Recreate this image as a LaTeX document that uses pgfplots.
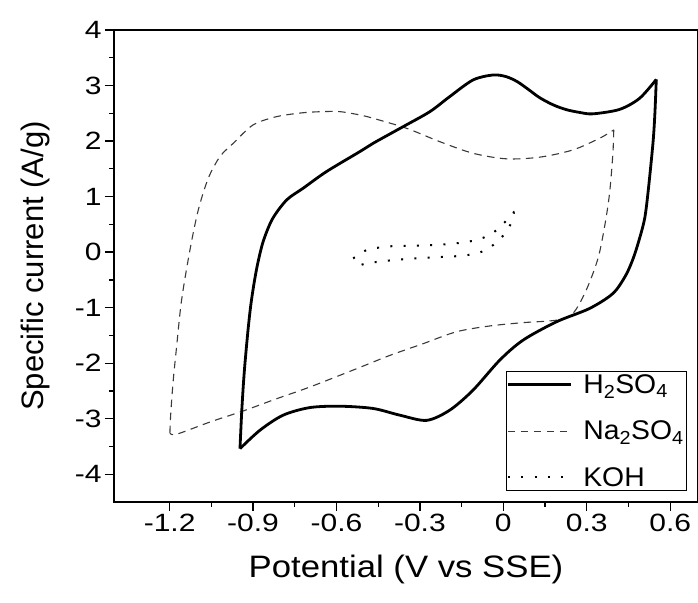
\documentclass[border=0pt]{standalone}
\usepackage{fontspec}
\setmainfont{Liberation Sans}
\newfontfamily\tickfont{Liberation Sans}[FakeStretch=1.2]
\newfontfamily\xlabfont{Liberation Sans}[FakeStretch=1.12]
\newfontfamily\legfont{Liberation Sans}[FakeStretch=1.05]
\usepackage{pgfplots}
\pgfplotsset{compat=1.18}
\definecolor{dashgray}{HTML}{3A3A3A}
\begin{document}
\begin{tikzpicture}
\begin{axis}[name=ax, width=584pt, height=472pt, scale only axis,
 xmin=-1.4, xmax=0.7, ymin=-4.5, ymax=4,
 xtick={-1.2,-0.9,-0.6,-0.3,0,0.3,0.6},
 xticklabels={-1.2,-0.9,-0.6,-0.3,0,0.3,0.6},
 ytick={-4,-3,-2,-1,0,1,2,3,4},
 yticklabels={-4,-3,-2,-1,0,1,2,3,4},
 minor x tick num=1, minor y tick num=1,
 xtick pos=left, ytick pos=left, tick align=outside,
 major tick length=9pt, minor tick length=5pt,
 every tick/.style={black, line width=1.3pt},
 axis line style={line width=1.4pt},
 tick label style={font=\tickfont\fontsize{25}{30}\selectfont},
 xlabel style={font=\xlabfont\fontsize{31}{36}\selectfont, at={(axis description cs:0.5,-0.144)}, anchor=center},
 ylabel style={font=\fontsize{31}{36}\selectfont, at={(axis description cs:-0.135,0.5)}, anchor=center},
 xlabel={Potential (V vs SSE)}, ylabel={Specific current (A/g)},
 legend style={at={(1,0)}, anchor=south east, xshift=-11pt, yshift=11pt,
   draw=black, line width=0.8pt, font=\legfont\fontsize{27}{30}\selectfont,
   cells={anchor=west}, row sep=20pt, inner sep=0pt, nodes={inner sep=3pt},
   /tikz/every odd column/.append style={column sep=8pt}},
 legend image code/.code={\draw[#1] (0pt,0pt) -- (63pt,0pt);},
]
\addlegendimage{black, line width=2.8pt}
\addlegendentry{H\textsubscript{2}SO\textsubscript{4}}
\addlegendimage{dashgray, line width=1.1pt, dash pattern=on 7.5pt off 5.5pt}
\addlegendentry{Na\textsubscript{2}SO\textsubscript{4}}
\addlegendimage{black, line width=2pt, dash pattern=on 2pt off 11.3pt}
\addlegendentry{KOH}

% Na2SO4
\addplot[forget plot, dashgray, line width=1.1pt, dash pattern=on 7.5pt off 5.5pt, smooth] coordinates {
(-1.199,-3.26) (-1.196,-2.91) (-1.187,-2.31) (-1.175,-1.71) (-1.157,-0.865)
(-1.127,0.036) (-1.097,0.757) (-1.061,1.33) (-1.019,1.72) (-0.971,1.96)
(-0.9,2.29) (-0.815,2.44) (-0.72,2.51) (-0.648,2.53) (-0.588,2.53)
(-0.516,2.47) (-0.468,2.41) (-0.348,2.23) (-0.229,1.99) (-0.109,1.78)
(0.011,1.68) (0.131,1.71) (0.25,1.84) (0.346,2.05) (0.397,2.20)};
\addplot[forget plot, dashgray, line width=1.1pt, dash pattern=on 7.5pt off 5.5pt, smooth] coordinates {
(0.397,2.20) (0.394,1.78) (0.382,1.06) (0.364,0.456) (0.34,-0.12)
(0.298,-0.685) (0.25,-1.105) (0.191,-1.225) (0.071,-1.27) (-0.049,-1.33)
(-0.169,-1.435) (-0.289,-1.65) (-0.408,-1.86) (-0.528,-2.10) (-0.696,-2.43)
(-0.815,-2.64) (-0.935,-2.86) (-1.055,-3.06) (-1.175,-3.28) (-1.199,-3.26)};

% KOH
\addplot[forget plot, black, line width=2pt, dash pattern=on 2pt off 11.3pt, smooth] coordinates {
(-0.54,-0.114) (-0.492,0.036) (-0.442,0.085) (-0.39,0.11) (-0.34,0.114)
(-0.289,0.12) (-0.238,0.132) (-0.187,0.15) (-0.136,0.18) (-0.085,0.234)
(-0.039,0.342) (-0.001,0.505) (0.037,0.715) (0.029,0.535) (0.005,0.33)
(-0.033,0.14) (-0.079,0.005) (-0.13,-0.054) (-0.182,-0.078) (-0.232,-0.09)
(-0.284,-0.102) (-0.335,-0.12) (-0.387,-0.138) (-0.437,-0.168) (-0.487,-0.198)
(-0.536,-0.265)};

% H2SO4
\addplot[forget plot, black, line width=2.8pt, smooth] coordinates {
(-0.947,-3.54) (-0.941,-2.9) (-0.935,-2.4) (-0.929,-2.0) (-0.918,-1.4)
(-0.908,-0.95) (-0.896,-0.55) (-0.883,-0.2) (-0.863,0.2) (-0.83,0.6)
(-0.779,0.94) (-0.72,1.15) (-0.636,1.45) (-0.516,1.81) (-0.468,1.96)
(-0.36,2.26) (-0.264,2.53) (-0.193,2.80) (-0.109,3.10) (-0.037,3.19)
(0.01,3.16) (0.05,3.07) (0.09,2.93) (0.131,2.78) (0.18,2.65) (0.227,2.565)
(0.275,2.515) (0.322,2.49) (0.418,2.57) (0.49,2.77) (0.55,3.11)};
\addplot[forget plot, black, line width=2.8pt, smooth] coordinates {
(0.55,3.11) (0.545,2.5) (0.538,1.96) (0.52,1.06) (0.508,0.6) (0.49,0.25)
(0.468,-0.1) (0.44,-0.42) (0.394,-0.745) (0.31,-1.015) (0.191,-1.255) (0.071,-1.585)
(-0.013,-1.946) (-0.109,-2.486) (-0.193,-2.847) (-0.276,-3.03) (-0.372,-2.937)
(-0.468,-2.816) (-0.588,-2.775) (-0.696,-2.80) (-0.792,-2.937) (-0.875,-3.207)
(-0.947,-3.54)};
\end{axis}
\pgfresetboundingbox
\path[use as bounding box] ([shift={(-114pt,-101pt)}]ax.south west) rectangle ([shift={(0pt,30pt)}]ax.north east);
\end{tikzpicture}
\end{document}
